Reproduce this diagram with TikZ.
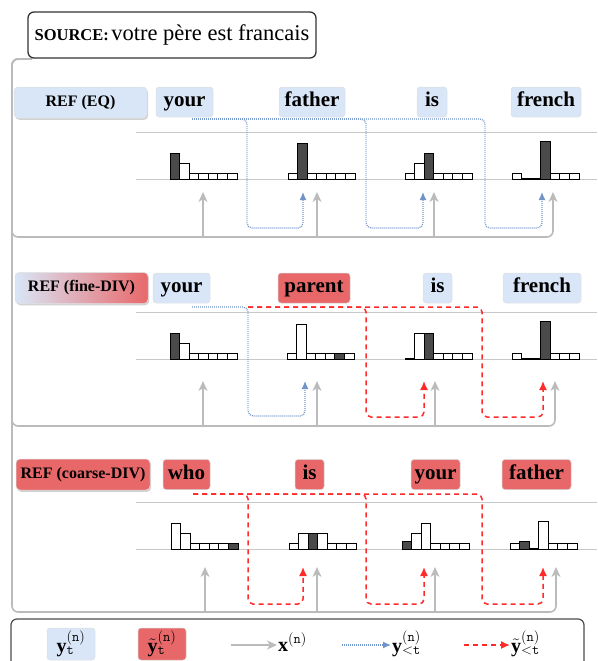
\documentclass[tikz,border=0pt]{standalone}
\usepackage{fontspec}
\setmainfont{Liberation Serif}
\usetikzlibrary{arrows.meta,shadows}
\definecolor{lblue}{HTML}{D9E6F7}
\definecolor{lred}{HTML}{E8686A}
\definecolor{gline}{HTML}{BBBBBB}
\definecolor{bdot}{HTML}{7093C8}
\definecolor{rdash}{HTML}{FF2A2A}
\definecolor{dbar}{HTML}{4A4A4A}
\definecolor{axisc}{HTML}{C8C8C8}
\colorlet{w}{white}
\colorlet{d}{dbar}
\newcommand{\hbars}[3]{%
  \foreach \hc/\hh [count=\hi from 0] in {#3}{%
    \ifdim\hh pt<0.5pt
      \draw[black, line width=1.4pt] ({#1+\hi*9.57},#2) -- ++(9.57,0);
    \else
      \draw[barstyle, fill=\hc] ({#1+\hi*9.57},#2) rectangle ++(9.57,-\hh);
    \fi}}
\begin{document}
\begin{tikzpicture}[x=1pt,y=-1pt,
  barstyle/.style={draw=black, line width=0.9pt},
  axisline/.style={draw=axisc, line width=1pt},
  gpath/.style={draw=gline, line width=1.6pt, rounded corners=6pt, -{Stealth[length=10pt,width=9pt,inset=3pt]}},
  garrow/.style={draw=gline, line width=1.6pt, -{Stealth[length=10pt,width=9pt,inset=3pt]}},
  bpath/.style={draw=bdot, line width=1.3pt, dash pattern=on 0.9pt off 1.1pt, rounded corners=5pt, -{Latex[length=8pt,width=7pt]}},
  rpath/.style={draw=rdash, line width=1.5pt, dash pattern=on 5pt off 4pt, rounded corners=5pt, -{Latex[length=9pt,width=8pt]}},
  wordb/.style={fill=lblue, draw=black!12, line width=0.5pt, rounded corners=3pt, inner sep=0pt, minimum height=30pt, text height=14pt, text depth=4.5pt, font=\fontsize{21}{21}\selectfont\bfseries},
  wordr/.style={wordb, fill=lred, draw=black!18},
  refbox/.style={wordb, minimum height=31pt, minimum width=133pt, rounded corners=4pt, text height=11pt, text depth=3.5pt, font=\fontsize{16}{16}\selectfont\bfseries, drop shadow={shadow xshift=1.2pt, shadow yshift=-1.8pt, fill=black!35}},
  srcbox/.style={draw=black!80, line width=1.3pt, fill=white, rounded corners=6pt, minimum width=288pt, minimum height=46pt, inner sep=0pt},
  legbox/.style={draw=black!70, line width=1.2pt, rounded corners=6pt},
  legtext/.style={font=\fontsize{20}{20}\selectfont, inner sep=1pt, anchor=west}
]
\useasboundingbox (0,0) rectangle (597,661);

% histogram axes
\foreach \yt/\yb in {132/179, 312/359, 502/549}{
  \draw[axisline] (136,\yt) -- (597,\yt);
  \draw[axisline] (136,\yb) -- (597,\yb);
}

% histograms row 1
\hbars{170}{179}{d/26,w/16,w/6,w/6,w/6,w/6,w/6}
\hbars{288}{179}{w/6,d/36,w/6,w/6,w/6,w/6,w/6}
\hbars{405}{179}{w/6,w/16,d/26,w/6,w/6,w/6,w/6}
\hbars{512}{179}{w/6,w/0,w/0,d/38,w/6,w/6,w/6}
% row 2
\hbars{170}{359}{d/26,w/16,w/6,w/6,w/6,w/6,w/6}
\hbars{287}{359}{w/6,w/35,w/6,w/6,w/6,d/6,w/6}
\hbars{405}{359}{w/0,w/26,d/26,w/6,w/6,w/6,w/6}
\hbars{512}{359}{w/6,w/0,w/0,d/38,w/6,w/6,w/6}
% row 3
\hbars{171}{549}{w/26,w/16,w/6,w/6,w/6,w/6,d/6}
\hbars{289}{549}{w/6,w/16,d/16,w/16,w/6,w/6,w/6}
\hbars{402}{549}{d/8,w/16,w/26,w/6,w/6,w/6,w/6}
\hbars{510}{549}{w/6,d/8,w/0,w/28,w/6,w/6,w/6}

% gray trunk paths (x inputs)
\coordinate (g0) at (32,59);
\coordinate (g1) at (553,192);
\coordinate (g2) at (555,381);
\coordinate (g3) at (556,567);
\draw[gpath] (g0) -- (12,59) -- (12,237) -- (553,237) -- (g1);
\draw[gpath] (g0) -- (12,59) -- (12,426) -- (555,426) -- (g2);
\draw[gpath] (g0) -- (12,59) -- (12,612) -- (556,612) -- (g3);
\foreach \xx in {203,317,434}{\draw[garrow] (\xx,237) -- (\xx,192);}
\foreach \xx in {203,317,435}{\draw[garrow] (\xx,426) -- (\xx,381);}
\foreach \xx in {205,317,435}{\draw[garrow] (\xx,612) -- (\xx,567);}

% row 1 blue dotted
\coordinate (b1) at (192,119);
\draw[bpath] (b1) -- (247,119) -- (247,228) -- (303,228) -- (303,192);
\draw[bpath] (b1) -- (366,119) -- (366,228) -- (423,228) -- (423,192);
\draw[bpath] (b1) -- (485,119) -- (485,228) -- (542,228) -- (542,192);
% row 2
\coordinate (b2) at (192,307);
\coordinate (r2) at (248,307);
\draw[bpath] (b2) -- (248,307) -- (248,416) -- (305,416) -- (305,381);
\draw[rpath] (r2) -- (366,307) -- (366,417) -- (424,417) -- (424,381);
\draw[rpath] (r2) -- (482,307) -- (482,417) -- (543,417) -- (543,381);
% row 3
\coordinate (r3) at (193,494);
\draw[rpath] (r3) -- (248,494) -- (248,604) -- (303,604) -- (303,567);
\draw[rpath] (r3) -- (366,494) -- (366,604) -- (424,604) -- (424,567);
\draw[rpath] (r3) -- (482,494) -- (482,604) -- (543,604) -- (543,567);

% source
\node[srcbox] (src) at (172,35) {{\fontsize{16.5}{16.5}\selectfont\bfseries SOURCE:} {\fontsize{22.5}{22.5}\selectfont votre père est francais}};

% row 1 nodes
\node[refbox] (ref1) at (80.5,102.5) {REF (EQ)};
\node[wordb, minimum width=57pt] (w11) at (184.5,102) {your};
\node[wordb, minimum width=66pt] (w12) at (312,102) {father};
\node[wordb, minimum width=30pt] (w13) at (432,102) {is};
\node[wordb, minimum width=70pt] (w14) at (546,102) {french};
% row 2
\node[refbox, left color=lblue, right color=lred] (ref2) at (81.5,288) {REF (fine-DIV)};
\node[wordb, minimum width=57pt] (w21) at (181.5,288) {your};
\node[wordr, minimum width=72pt] (w22) at (314,288) {parent};
\node[wordb, minimum width=29pt] (w23) at (437.5,288) {is};
\node[wordb, minimum width=78pt] (w24) at (542,288) {french};
% row 3
\node[refbox, fill=lred, minimum width=134pt] (ref3) at (83,474.5) {REF (coarse-DIV)};
\node[wordr, minimum width=47pt] (w31) at (186.5,474.5) {who};
\node[wordr, minimum width=29pt] (w32) at (309.5,474.5) {is};
\node[wordr, minimum width=49pt] (w33) at (435.5,474.5) {your};
\node[wordr, minimum width=69pt] (w34) at (536.5,474.5) {father};

% legend
\draw[legbox] (11,619) rectangle (584,680);
\node[wordb, minimum width=48pt, minimum height=32pt, text height=, text depth=, font=\fontsize{20}{20}\selectfont] (ly) at (71,644) {$\mathbf{y}^{\mathtt{(n)}}_{\mathtt{t}}$};
\node[wordr, minimum width=48pt, minimum height=32pt, text height=, text depth=, font=\fontsize{20}{20}\selectfont] (lyt) at (162,644) {$\tilde{\mathbf{y}}^{\mathtt{(n)}}_{\mathtt{t}}$};
\node[legtext] (lx) at (277,642) {$\mathbf{x}^{\mathtt{(n)}}$};
\node[legtext] (lb) at (391,644) {$\mathbf{y}^{\mathtt{(n)}}_{\mathtt{<t}}$};
\node[legtext] (lr) at (510,644) {$\tilde{\mathbf{y}}^{\mathtt{(n)}}_{\mathtt{<t}}$};
\coordinate (lxa) at (231,645);
\coordinate (lba) at (342,645);
\coordinate (lra) at (464,645);
\draw[garrow] (lxa) -- (lx.west |- lxa);
\draw[bpath] (lba) -- (lb.west |- lba);
\draw[rpath] (lra) -- (lr.west |- lra);
\end{tikzpicture}
\end{document}
